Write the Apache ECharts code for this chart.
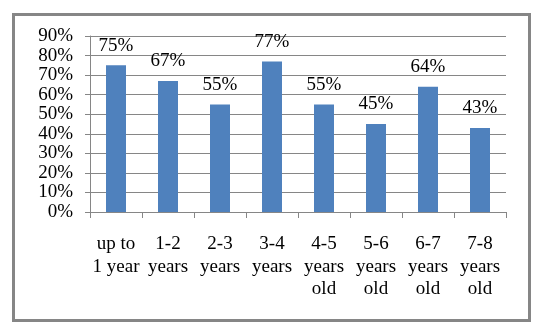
<!DOCTYPE html>
<html>
<head>
<meta charset="utf-8">
<script src="https://cdn.jsdelivr.net/npm/echarts@6/dist/echarts.min.js"></script>
<style>
  html, body { margin: 0; padding: 0; background: #fff; }
  #chart { width: 543px; height: 335px; }
</style>
</head>
<body>
<div id="chart"></div>
<script>
// data
var categories = ["up to\n1 year", "1-2\nyears", "2-3\nyears", "3-4\nyears",
	"4-5\nyears\nold", "5-6\nyears\nold", "6-7\nyears\nold", "7-8\nyears\nold"];
var shares = [75, 67, 55, 77, 55, 45, 64, 43];
var yTicks = [0, 10, 20, 30, 40, 50, 60, 70, 80, 90];

var serif = "'Liberation Serif', 'Times New Roman', serif";
var myChart = echarts.init(document.getElementById("chart"));

var option = {
	backgroundColor: "#fff",
	animation: false,
	graphic: [
		{
			type: "rect",
			shape: { x: 13.5, y: 14.5, width: 516, height: 306 },
			style: { fill: "none", stroke: "#868686", lineWidth: 3 },
			z: 100
		}
	],
	grid: { left: 90, right: 37, top: 36, bottom: 123 },
	xAxis: {
		type: "category",
		data: categories,
		axisLine: { lineStyle: { color: "#868686", width: 1 } },
		axisTick: { show: true, length: 6, lineStyle: { color: "#868686" } },
		axisLabel: {
			interval: 0,
			hideOverlap: false,
			margin: 21,
			fontFamily: serif,
			fontSize: 19,
			lineHeight: 22.5,
			color: "#000",
			align: "center"
		}
	},
	yAxis: {
		type: "value",
		min: yTicks[0],
		max: yTicks[yTicks.length - 1],
		interval: 10,
		axisLine: { show: true, lineStyle: { color: "#868686", width: 1 } },
		axisTick: { show: true, length: 5, lineStyle: { color: "#868686" } },
		splitLine: { lineStyle: { color: "#868686", width: 1 } },
		axisLabel: {
			margin: 17,
			formatter: "{value}%",
			fontFamily: serif,
			fontSize: 19,
			color: "#000"
		}
	},
	series: [
		{
			type: "bar",
			data: shares,
			barWidth: 20,
			itemStyle: { color: "#4F81BD" },
			label: {
				show: true,
				position: "top",
				distance: 10,
				formatter: "{c}%",
				fontFamily: serif,
				fontSize: 19,
				color: "#000"
			}
		}
	]
};
myChart.setOption(option);
</script>
</body>
</html>
